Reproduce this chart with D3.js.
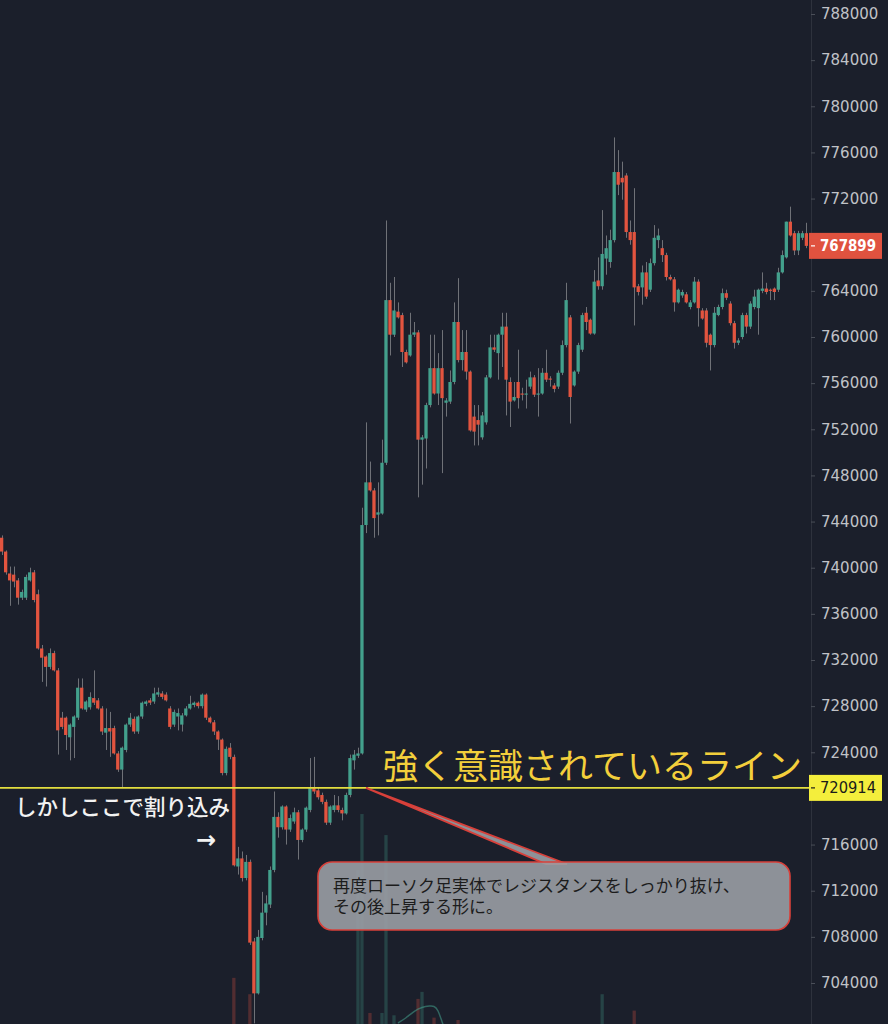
<!DOCTYPE html>
<html><head><meta charset="utf-8">
<script src="https://cdnjs.cloudflare.com/ajax/libs/d3/7.8.5/d3.min.js"></script>
<style>html,body{margin:0;padding:0;background:#1b1f2b;}svg{display:block}</style>
</head><body><svg id="c" width="888" height="1024"></svg>
<script>
// OHLC in thousands of JPY: [open, high, low, close]
const ohlcK = [
[742.6,742.8,741.1,741.4],[741.4,741.5,739.4,739.6],[739.5,740.1,736.7,738.9],[739.4,740.1,738.3,738.8],[738.9,739.1,736.8,737.4],
[737.4,738.1,737.2,737.9],[737.4,739.4,737.2,739.2],[738.9,740.0,738.8,739.6],[739.6,739.8,737.0,737.2],[737.7,738.1,732.9,733.0],
[733.0,733.3,730.1,732.2],[732.3,732.4,729.7,731.4],[731.4,733.0,731.2,732.6],[732.6,732.8,731.0,731.1],[731.1,731.3,723.8,725.9],
[727.0,727.5,726.0,726.2],[727.0,727.1,724.2,725.5],[725.3,726.5,723.3,726.4],[726.2,727.2,723.5,727.1],[727.0,730.4,726.8,729.6],
[729.6,730.4,727.7,727.8],[727.7,728.5,727.5,728.4],[727.9,729.2,727.7,728.8],[728.7,731.1,728.1,728.3],[728.5,728.7,727.7,727.8],
[727.8,728.0,725.5,725.8],[725.7,727.8,724.2,726.1],[726.1,727.5,723.6,725.8],[726.1,726.3,723.8,723.9],[723.9,724.1,722.3,722.5],
[722.5,724.5,720.9,724.4],[724.2,726.5,724.0,726.4],[726.4,727.4,726.2,727.0],[726.9,727.1,725.6,725.8],[725.8,727.2,725.6,727.1],
[727.1,728.4,726.9,728.3],[728.2,728.5,728.0,728.4],[728.5,728.7,728.1,728.3],[728.4,729.6,728.2,729.1],[729.0,729.6,728.8,729.2],
[729.1,729.3,728.6,728.8],[729.0,729.2,728.4,728.5],[727.8,728.0,726.0,726.2],[726.4,727.7,726.2,727.5],[727.1,727.8,725.9,727.4],
[726.4,727.4,725.8,727.2],[727.2,728.0,727.1,727.8],[727.8,728.9,727.7,728.2],[728.1,728.4,727.9,728.3],[728.3,728.4,727.8,728.0],
[728.0,729.1,727.8,729.0],[729.0,729.1,726.8,727.0],[727.0,727.1,726.5,726.6],[726.6,726.8,725.5,725.8],[725.8,725.9,724.2,725.1],
[725.1,725.2,722.0,722.2],[722.2,724.5,722.0,724.3],[724.4,724.8,723.4,723.6],[723.6,723.8,714.1,714.2],[714.1,715.8,713.4,714.8],
[714.8,715.4,712.8,713.1],[713.1,715.1,712.9,714.5],[714.5,714.7,707.3,707.5],[707.6,707.9,700.5,703.1],[703.1,708.6,703.0,708.0],
[707.9,711.9,707.7,710.1],[710.1,711.6,709.0,710.9],[710.8,714.1,710.5,713.8],[713.8,720.6,713.6,718.4],[718.4,718.8,716.6,717.5],
[717.5,719.4,717.3,719.3],[719.3,719.4,716.0,717.3],[717.3,718.6,717.1,718.3],[718.0,719.2,717.8,718.8],[718.8,719.0,714.7,716.4],
[716.4,717.4,716.2,717.3],[717.3,719.3,717.1,719.2],[719.0,723.5,718.8,720.9],[720.9,723.6,720.4,720.6],[720.7,720.9,719.9,720.1],
[720.3,720.5,719.5,719.7],[719.7,719.9,717.7,717.9],[717.9,719.4,717.7,719.3],[719.0,720.3,718.8,719.4],[719.4,720.2,718.8,719.0],
[719.0,719.2,718.1,718.7],[718.7,720.5,718.6,720.3],[720.3,723.8,720.1,723.5],[723.3,724.2,722.5,723.8],[723.7,724.4,723.5,723.9],
[723.9,745.2,723.8,743.7],[743.7,752.6,743.0,747.4],[747.4,749.2,746.6,746.7],[746.7,746.9,742.6,744.3],[744.6,747.4,742.8,744.8],
[744.7,751.1,744.6,749.1],[749.1,770.1,748.9,763.2],[763.2,764.7,758.4,760.2],[760.2,765.2,760.0,762.3],[762.2,763.0,761.6,761.7],
[761.9,762.1,757.4,758.7],[758.7,758.9,757.7,757.8],[758.4,762.1,758.3,760.2],[760.2,761.3,760.0,760.4],[760.4,760.6,746.1,751.1],
[751.1,751.5,747.2,751.3],[751.2,754.3,748.6,754.1],[754.1,760.2,753.9,757.3],[757.3,760.2,755.0,755.1],[755.1,758.6,754.1,757.3],
[757.3,760.6,748.2,754.7],[754.3,754.7,753.1,754.5],[754.4,757.1,754.2,756.1],[756.1,763.0,755.9,761.3],[761.3,765.1,757.8,758.0],
[758.0,760.6,757.1,758.7],[758.7,760.6,756.3,757.0],[757.0,757.1,751.8,751.9],[753.1,754.1,750.6,751.8],[752.8,754.1,750.6,752.4],
[751.3,753.5,751.1,753.2],[752.6,756.7,752.4,756.5],[756.5,760.2,756.4,759.1],[759.1,760.2,758.7,758.9],[758.6,760.3,756.3,760.2],
[760.2,762.1,757.4,760.9],[760.9,762.1,753.2,756.3],[756.1,756.5,752.2,754.4],[754.5,756.1,754.4,754.8],[756.1,758.9,753.8,754.7],
[755.1,755.6,754.5,755.0],[755.0,756.3,753.8,755.1],[755.7,757.0,755.5,756.5],[756.5,756.7,754.8,755.0],[755.0,757.3,753.1,755.1],
[755.1,757.3,755.0,756.9],[756.9,758.9,756.1,756.3],[756.4,756.6,755.7,756.3],[755.8,756.0,755.2,755.5],[755.7,757.1,755.5,756.9],
[756.9,759.7,756.7,759.3],[759.3,764.7,759.1,763.2],[761.7,761.9,752.5,754.8],[755.8,757.1,755.7,757.0],[757.0,759.5,756.8,759.3],
[758.9,762.1,758.7,761.9],[762.1,762.6,760.6,761.3],[761.5,761.6,760.2,760.3],[760.3,765.8,760.2,764.8],[764.9,766.9,764.1,764.4],
[764.4,771.0,764.1,767.2],[766.8,768.8,765.4,767.7],[766.5,769.3,766.0,768.4],[768.4,777.3,768.2,774.3],[774.3,776.2,772.3,773.2],
[773.8,775.2,771.9,773.4],[774.0,774.2,768.6,769.1],[769.1,770.1,768.0,768.4],[769.1,772.9,761.0,764.3],[764.4,764.6,763.6,763.9],
[764.3,766.2,762.8,765.6],[765.6,766.5,763.3,763.5],[764.1,766.8,763.9,766.4],[766.4,769.7,766.2,768.6],[768.4,769.4,767.7,768.8],
[767.7,768.4,766.5,767.1],[767.1,767.3,764.9,765.2],[765.2,765.4,764.9,765.0],[765.0,765.2,762.2,763.0],[763.0,764.2,762.9,764.1],
[763.6,764.1,763.4,763.9],[763.7,763.9,762.9,763.0],[762.6,763.2,762.4,763.0],[763.0,765.2,762.9,764.8],[764.8,765.0,760.9,762.5],
[762.3,762.5,761.5,761.6],[762.3,762.5,759.1,759.5],[760.2,760.3,757.1,759.3],[759.3,762.6,759.1,762.1],[761.9,762.8,761.8,762.6],
[762.6,764.2,762.4,763.8],[763.8,764.1,763.2,763.4],[762.9,763.1,761.0,761.2],[761.2,761.4,759.0,759.5],[759.5,759.9,759.3,759.7],
[760.0,762.1,759.8,761.9],[761.9,762.1,760.3,760.9],[760.9,763.1,760.7,762.9],[762.6,764.1,762.4,763.5],[762.5,764.2,760.2,764.1],
[764.0,765.6,763.8,764.2],[764.2,764.7,763.7,763.9],[764.1,764.2,763.2,764.0],[764.2,764.3,763.2,763.9],[764.1,766.0,763.9,765.6],
[765.6,767.5,765.5,767.1],[766.9,770.0,766.8,770.0],[770.0,771.3,768.7,768.8],[769.0,769.2,767.1,767.5],[767.5,769.2,767.1,769.0],
[768.6,769.2,768.4,769.0],[769.0,769.9,767.7,767.899]
];
const priceUnit = 1000;

// price axis ticks
const yTicks = [704000,708000,712000,716000,720000,724000,728000,732000,736000,740000,744000,748000,752000,756000,760000,764000,768000,772000,776000,780000,784000,788000];
const lastPrice = 767899;
const linePrice = 720914;

// visible volume bars (candle index, relative volume)
const volIdx = [58, 62, 89, 90, 92, 95, 96, 98, 104, 105, 108, 114, 150, 158];
const volVal = [24, 17, 70, 94, 9, 9, 85, 8, 15, 18, 7, 6, 17, 10];
// volume moving average segment
const vmaIdx = [99, 101, 103, 105, 107, 108, 109, 110, 111];
const vmaVal = [4.7, 6.8, 9.8, 11.5, 12.0, 12.0, 10.5, 5, 1];

const labelLine = "強く意識されているライン";
const labelCut = "しかしここで割り込み";
const calloutLines = ["再度ローソク足実体でレジスタンスをしっかり抜け、", "その後上昇する形に。"];

const W = 888, H = 1024, plotRight = 808;
const upC = "#43a08c", downC = "#e2543f", wickC = "#6f7177", bg = "#1b1f2b";

const candles = ohlcK.map((r, i) => ({i, o: r[0]*priceUnit, h: r[1]*priceUnit, l: r[2]*priceUnit, c: r[3]*priceUnit}));
const svg = d3.select("#c");
svg.append("rect").attr("width", W).attr("height", H).attr("fill", bg);

const x = d3.scaleBand().domain(d3.range(candles.length)).range([0, plotRight]).paddingInner(0.18);
const xc = i => x(i) + x.bandwidth()/2;
const y = d3.scaleLinear().domain([704000, 788000]).range([983, 14]);
const yv = d3.scaleLinear().domain([0, 100]).range([1034, 800]);

// volume
const vg = svg.append("g");
vg.selectAll("rect").data(volIdx.map((k, j) => ({k, v: volVal[j]}))).join("rect")
  .attr("x", d => x(d.k)).attr("width", x.bandwidth())
  .attr("y", d => yv(d.v)).attr("height", d => yv(0) - yv(d.v))
  .attr("fill", d => candles[d.k].c >= candles[d.k].o ? upC : downC)
  .attr("opacity", 0.28);
vg.append("path").datum(vmaIdx.map((k, j) => [xc(k), yv(vmaVal[j])]))
  .attr("d", d3.line().curve(d3.curveBasis)).attr("fill", "none")
  .attr("stroke", upC).attr("stroke-width", 1.5).attr("opacity", 0.55);

// candles
const cg = svg.append("g");
cg.selectAll("line").data(candles).join("line")
  .attr("x1", d => Math.round(xc(d.i)) + 0.5).attr("x2", d => Math.round(xc(d.i)) + 0.5)
  .attr("y1", d => y(d.h)).attr("y2", d => y(d.l))
  .attr("stroke", wickC).attr("stroke-width", 1);
cg.selectAll("rect").data(candles).join("rect")
  .attr("x", d => x(d.i)).attr("width", x.bandwidth())
  .attr("y", d => y(Math.max(d.o, d.c)))
  .attr("height", d => Math.max(1, Math.abs(y(d.o) - y(d.c))))
  .attr("fill", d => d.c >= d.o ? upC : downC);

// horizontal resistance line
svg.append("line").attr("x1", 0).attr("x2", plotRight + 2)
  .attr("y1", y(linePrice)).attr("y2", y(linePrice))
  .attr("stroke", "#e3de3f").attr("stroke-width", 1.6);

// axis (tick labels covered by the price tags are not shown, as in the original)
const ax = svg.append("g").attr("transform", `translate(${plotRight + 3},0)`)
  .call(d3.axisRight(y).tickValues(yTicks).tickSize(4).tickPadding(6).tickFormat(d3.format("d")));
ax.select(".domain").attr("stroke", "#2e323d").attr("d", `M0.5,0V${H}`);
ax.selectAll(".tick line").attr("stroke", "#4a4e58");
ax.selectAll(".tick text").attr("fill", "#c0c2c7").attr("font-family", "DejaVu Sans, sans-serif").attr("font-size", 15)
  .text(d => (Math.abs(y(d) - y(linePrice)) < 14 || Math.abs(y(d) - y(lastPrice)) < 14) ? "" : d3.format("d")(d));

// price labels
function priceTag(price, fill, color, bold) {
  const g = svg.append("g");
  const yy = y(price);
  g.append("rect").attr("x", 809).attr("y", yy - 13).attr("width", 73).attr("height", 26).attr("fill", fill);
  g.append("line").attr("x1", 811).attr("x2", 815).attr("y1", yy).attr("y2", yy).attr("stroke", color).attr("stroke-width", 1.2);
  g.append("text").attr("x", 820).attr("y", yy + 5.5).text(d3.format("d")(price))
    .attr("fill", color).attr("font-family", "DejaVu Sans, sans-serif").attr("font-size", 15)
    .attr("font-weight", bold ? "bold" : "normal").attr("textLength", 56).attr("lengthAdjust", "spacingAndGlyphs");
}
priceTag(lastPrice, "#e0523f", "#ffffff", true);
priceTag(linePrice, "#f4ee3c", "#1a1a1a", false);

// annotations
svg.append("text").attr("x", 383).attr("y", y(linePrice) - 9).text(labelLine)
  .attr("fill", "#f3cf3b").attr("font-family", "Noto Sans CJK JP").attr("font-size", 35);
svg.append("text").attr("x", 15).attr("y", y(linePrice) + 27).text(labelCut)
  .attr("fill", "#f2f2f2").attr("font-family", "Noto Sans CJK JP").attr("font-size", 21.5).attr("font-weight", 500);
svg.append("text").attr("x", 196).attr("y", y(linePrice) + 60).text("→")
  .attr("fill", "#f2f2f2").attr("font-family", "DejaVu Sans").attr("font-size", 24).attr("font-weight", "bold");

// callout
const tipX = xc(91), tipY = y(linePrice);
const cb = svg.append("g");
cb.append("path").attr("d", `M${tipX},${tipY} L567,864 L546,864 Z`)
  .attr("fill", "#9a9da4").attr("fill-opacity", 0.9).attr("stroke", "#d8403a").attr("stroke-width", 1.8);
cb.append("rect").attr("x", 318).attr("y", 862).attr("width", 472).attr("height", 68).attr("rx", 14)
  .attr("fill", "#9a9da4").attr("fill-opacity", 0.9).attr("stroke", "#d8403a").attr("stroke-width", 1.6);
const ct = cb.append("text").attr("fill", "#1c1c1c").attr("font-family", "Noto Sans CJK JP").attr("font-size", 17);
ct.selectAll("tspan").data(calloutLines).join("tspan")
  .attr("x", 333).attr("y", (d, i) => 892 + i * 20.5).text(d => d);
</script></body></html>
